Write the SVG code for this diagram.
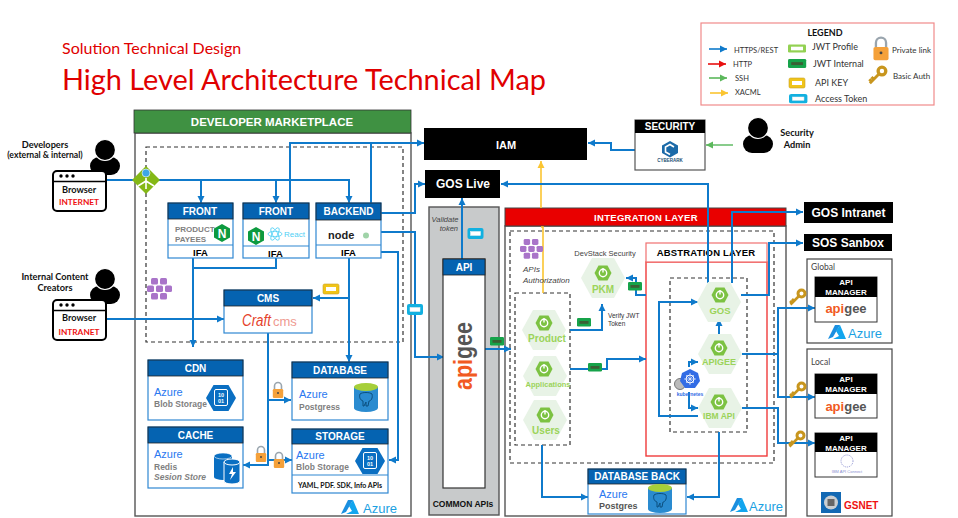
<svg xmlns="http://www.w3.org/2000/svg" xmlns:xlink="http://www.w3.org/1999/xlink" width="958" height="518" viewBox="0 0 958 518">
<style>
text{font-family:"Liberation Sans",Arial,sans-serif}
.c{font-family:Lato,"Liberation Sans",sans-serif}
.m{text-anchor:middle}
.b{font-weight:bold}
.hw{fill:#fff;font-weight:bold;font-size:10px;text-anchor:middle}
.hb{fill:#0563b1;stroke:#222;stroke-width:.8}
.bd{fill:#fff;stroke:#2f88d2;stroke-width:1.2}
.frame{fill:#fff;stroke:#555;stroke-width:1.4}
.dash{fill:none;stroke:#333;stroke-width:1.2;stroke-dasharray:4 3}
.l{fill:none;stroke:#0f7acb;stroke-width:2}
.a{marker-end:url(#ah)}
.az{fill:#2a78f0;font-size:11px}
.gr{fill:#7f7f7f;font-weight:bold;font-size:8.5px}
.sp{fill:#9bd35a;font-weight:bold;text-anchor:middle}
.azt{fill:#1ba1e2;font-size:13px}
.lg{font-size:7.5px;fill:#333}
.lr{font-size:8px;fill:#333}
.lm{font-size:9px;fill:#333}
.mgr{fill:#fff;font-weight:bold;font-size:8px;text-anchor:middle}
.ppl{font-weight:bold;fill:#111;text-anchor:middle;font-size:9.2px}
</style>
<defs>
<marker id="ah" markerUnits="userSpaceOnUse" markerWidth="8" markerHeight="8" refX="7" refY="4" orient="auto"><path d="M0 0.5L7 4L0 7.5z" fill="#0f7acb"/></marker>
<marker id="ar" markerUnits="userSpaceOnUse" markerWidth="8" markerHeight="8" refX="7" refY="4" orient="auto"><path d="M0 0.5L7 4L0 7.5z" fill="#e81010"/></marker>
<marker id="ag" markerUnits="userSpaceOnUse" markerWidth="8" markerHeight="8" refX="7" refY="4" orient="auto"><path d="M0 0.5L7 4L0 7.5z" fill="#5cb85c"/></marker>
<marker id="ay" markerUnits="userSpaceOnUse" markerWidth="8" markerHeight="8" refX="7" refY="4" orient="auto"><path d="M0 0.5L7 4L0 7.5z" fill="#fbc531"/></marker>
<g id="person"><rect x="-15" y="7" width="30" height="18" rx="9" fill="#000"/><circle r="10.5" fill="#000" stroke="#fff" stroke-width="1.2"/></g>
<g id="browser"><rect x="1" y="1" width="53" height="40" rx="4" fill="#fff" stroke="#000" stroke-width="2"/><path d="M1 11.5H54" stroke="#000" stroke-width="1.6"/><circle cx="9" cy="6" r="1.7"/><circle cx="15" cy="6" r="1.7"/><circle cx="21" cy="6" r="1.7"/></g>
<g id="hex"><polygon points="-22,0 -11,-20 11,-20 22,0 11,20 -11,20" fill="#e8f3e6"/></g>
<g id="pw"><polygon points="-8.5,0 -4.5,-7.5 4.5,-7.5 8.5,0 4.5,7.5 -4.5,7.5" fill="#7cc242"/><circle r="3.7" fill="none" stroke="#fff" stroke-width="1.4"/><path d="M0-5V-.5" stroke="#fff" stroke-width="1.4"/></g>
<g id="azlogo"><path d="M7 0L12 0L5 12L0 14z" fill="#1a8fe0"/><path d="M12 0L18 14H5L11 11L8 6z" fill="#12a5ee"/></g>
<g id="key"><circle cx="4.500" cy="-4.500" r="3.500" fill="none" stroke="#c8961e" stroke-width="3"/><path d="M2-2L-6.500 6.500M-5 5L-7 3M-3 3L-5 1" fill="none" stroke="#c8961e" stroke-width="2.600"/></g>
<g id="lock"><path d="M-3.500-2V-5A3.500 3.500 0 0 1 3.500-5V-2" fill="none" stroke="#9aa5ae" stroke-width="1.600"/><rect x="-5.200" y="-2" width="10.400" height="9" rx="1.200" fill="#f5a13a"/><circle cy="2" r="1" fill="#444"/></g>
<g id="tkG"><rect x="0" y="0" width="14" height="8.500" rx="1.200" fill="#16a34a"/><rect x="2.500" y="3" width="9" height="2.800" fill="#3a5f34"/></g>
<g id="tkB"><rect x="0" y="0" width="16" height="11" rx="2" fill="#12b0e0"/><rect x="3" y="3.500" width="10" height="4" fill="#fff" stroke="#eee" stroke-width=".5"/></g>
<g id="tkY"><rect x="0" y="0" width="16" height="10" rx="1.500" fill="#f0c419" stroke="#c9a227" stroke-width=".6"/><rect x="3" y="3" width="10" height="4" fill="#fff"/></g>
<g id="tkL"><rect x="0" y="0" width="18" height="8" rx="1.200" fill="#93d152"/><rect x="3" y="2.200" width="12" height="3.600" fill="#fff"/></g>
<g id="ngx"><polygon points="0,-9 8,-4.500 8,4.500 0,9 -8,4.500 -8,-4.500" fill="#0d9a3f"/><text y="4.500" font-size="12" font-weight="bold" fill="#fff" text-anchor="middle">N</text></g>
<g id="blob"><polygon points="-15,0 -7.500,-13 7.500,-13 15,0 7.500,13 -7.500,13" fill="#0a6fc2"/><rect x="-6.500" y="-8.500" width="13" height="16" rx="1.500" fill="none" stroke="#fff" stroke-width="1"/><text y="-1.500" font-size="5.500" font-weight="bold" fill="#fff" text-anchor="middle">10</text><text y="5" font-size="5.500" font-weight="bold" fill="#fff" text-anchor="middle">01</text></g>
<g id="pg"><path d="M-12-11V10A12 4 0 0 0 12 10V-11z" fill="#2a8bd0"/><ellipse cy="-11" rx="12" ry="4" fill="#a6cf3a"/><path d="M-6-4C-4-6 4-6 6-4C7 0 5 3 3 3L2 8H0V4L-2 8H-3V3C-6 2-7-1-6-4z" fill="none" stroke="#0b4f7f" stroke-width="1"/></g>
<g id="aks"><g fill="#a974c9"><rect x="4" y="0" width="7" height="6.500" rx="1.500"/><rect x="13" y="0" width="7" height="6.500" rx="1.500"/><rect x="0" y="7.500" width="7" height="6.500" rx="1.500"/><rect x="9" y="7.500" width="7" height="6.500" rx="1.500"/><rect x="18" y="7.500" width="7" height="6.500" rx="1.500"/><rect x="4" y="15" width="7" height="6.500" rx="1.500"/><rect x="13" y="15" width="7" height="6.500" rx="1.500"/></g></g>
</defs>

<rect width="958" height="518" fill="#fff"/>
<g id="title">
<text class="c" x="62" y="54" font-size="16" fill="#e00000">Solution Technical Design</text>
<text class="c" x="62" y="90" font-size="29" fill="#e00000" textLength="484" lengthAdjust="spacingAndGlyphs">High Level Architecture Technical Map</text>
</g>

<g id="legend">
<rect x="701" y="23" width="233" height="82" fill="#fff" stroke="#f08a8a" stroke-width="1.2"/>
<text class="c b m" x="825" y="36" font-size="9" fill="#111">LEGEND</text>
<path d="M709 49H727" stroke="#0f7acb" stroke-width="1.6" marker-end="url(#ah)"/>
<path d="M708 64H726" stroke="#e81010" stroke-width="1.6" marker-end="url(#ar)"/>
<path d="M709 78H727" stroke="#5cb85c" stroke-width="1.6" marker-end="url(#ag)"/>
<path d="M710 93H728" stroke="#fbc531" stroke-width="1.6" marker-end="url(#ay)"/>
<text class="c lg" x="734" y="53">HTTPS/REST</text>
<text class="c lg" x="733" y="67">HTTP</text>
<text class="c lg" x="735" y="81">SSH</text>
<text class="c lg" x="735" y="95">XACML</text>
<use href="#tkL" x="788" y="44.500"/>
<use href="#tkG" transform="translate(788 59) scale(1.3 1.05)"/>
<use href="#tkY" x="789" y="78"/>
<use href="#tkB" transform="translate(789 94) scale(1.15 .85)"/>
<text class="c lm" x="812" y="49.500">JWT Profile</text>
<text class="c lm" x="813" y="67">JWT Internal</text>
<text class="c lm" x="815" y="86">API KEY</text>
<text class="c lm" x="815" y="102">Access Token</text>
<use href="#lock" transform="translate(881 50) scale(1.45)"/>
<text class="c lr" x="892" y="53">Private link</text>
<use href="#key" transform="translate(877 76) scale(1.1)"/>
<text class="c lr" x="893" y="79">Basic Auth</text>
</g>

<g id="frames">
<rect class="frame" x="135" y="133" width="276" height="383"/>
<rect x="134" y="110" width="277" height="23" fill="#3f9142" stroke="#333" stroke-width=".8"/>
<text class="b m" x="272" y="126" font-size="11.500" fill="#fff">DEVELOPER MARKETPLACE</text>
<rect class="dash" x="146" y="147" width="257" height="195"/>
<rect x="429" y="207" width="70" height="308" fill="#c8cacb" stroke="#555" stroke-width="1.4"/>
<rect class="frame" x="505" y="226" width="281" height="290"/>
<rect x="505" y="208" width="281" height="18" fill="#e90000" stroke="#444"/>
<text class="b m" x="646" y="221" font-size="9.500" fill="#fff" letter-spacing=".3">INTEGRATION  LAYER</text>
<rect class="dash" x="510" y="231" width="264" height="232"/>
<rect x="646" y="262" width="121" height="194" fill="#fff" stroke="#ef3b3b" stroke-width="1.4"/>
<rect x="646" y="243" width="121" height="19" fill="#fff" stroke="#f07070" stroke-width="1.2"/>
<text class="b m" x="706" y="256" font-size="9.500" fill="#000" letter-spacing=".2">ABSTRATION LAYER</text>
<rect class="dash" x="670" y="278" width="77" height="154"/>
<rect class="dash" x="515" y="293" width="55" height="152"/>
<rect x="807" y="259" width="85" height="84" fill="#fff" stroke="#444" stroke-width="1.2"/>
<rect x="807" y="349" width="85" height="167" fill="#fff" stroke="#444" stroke-width="1.2"/>
<text class="c" x="811" y="270" font-size="8.500" fill="#444">Global</text>
<text class="c" x="811" y="365" font-size="8.500" fill="#444">Local</text>
</g>

<g id="connectors">
<path d="M543 293V227H541" fill="none" stroke="#fbc531" stroke-width="1.6"/>
<path d="M541 208V161" fill="none" stroke="#fbc531" stroke-width="1.6" marker-end="url(#ay)"/>
<path class="l" d="M106 180H350"/>
<path class="l a" d="M201 180V203"/>
<path class="l a" d="M276 180V203"/>
<path class="l a" d="M349 180V203"/>
<path class="l a" d="M290 203V143H424"/>
<path class="l" d="M371 203V143"/>
<path class="l a" d="M381 213H415V184H425"/>
<path class="l a" d="M381 232H415V357H444"/>
<path class="l a" d="M381 252H398V460H389"/>
<path class="l a" d="M193 258V347"/>
<path class="l" d="M276 258V268H193"/>
<path class="l a" d="M349 258V362"/>
<path class="l a" d="M349 298H313"/>
<path class="l a" d="M106 319H224"/>
<path class="l a" d="M268 333V465H243"/>
<path class="l a" d="M268 400H291"/>
<path class="l a" d="M268 460H292"/>
<path class="l a" d="M635 150H611V143H588"/>
<path d="M733 145H706" fill="none" stroke="#6cc070" stroke-width="1.600" marker-end="url(#ag)"/>
<path class="l a" d="M462 259V198"/>
<path class="l a" d="M485 349H511"/>
<path class="l a" d="M708 283V184H501"/>
<path class="l a" d="M732 283V212H803"/>
<path class="l a" d="M741 295H769V243H803"/>
<path class="l a" d="M742 354H778V308H815"/>
<path class="l a" d="M778 354V397H815"/>
<path class="l a" d="M742 408H778V443H815"/>
<path class="l a" d="M719 334V319"/>
<path class="l a" d="M698 416H659V302H698"/>
<path class="l a" d="M689 367V362H698"/>
<path class="l a" d="M689 392V408H698"/>
<path class="l a" d="M570 330H602V304"/>
<path class="l a" d="M570 369H607V359H646"/>
<path class="l a" d="M646 295H636V278H626"/>
<path class="l a" d="M542 445V497H588"/>
<path class="l a" d="M719 432V497H687"/>
</g>

<g id="developers">
<text class="c ppl" x="45" y="148">Developers</text>
<text class="c b m" x="45" y="158" font-size="8.600" fill="#111">(external &amp; internal)</text>
<use href="#person" x="105" y="150"/>
<use href="#browser" x="52" y="170"/>
<text class="c ppl" x="79" y="193">Browser</text>
<text class="c b m" x="79" y="205" font-size="8.300" fill="#ee1111">INTERNET</text>
</g>
<g id="content-creators">
<text class="c ppl" x="55" y="280">Internal Content</text>
<text class="c ppl" x="55" y="291">Creators</text>
<use href="#person" x="105" y="279"/>
<use href="#browser" x="52" y="299"/>
<text class="c ppl" x="79" y="321">Browser</text>
<text class="c b m" x="79" y="335" font-size="8.300" fill="#ee1111">INTRANET</text>
</g>
<g id="gateway">
<polygon points="146,166 160,180 146,194 132,180" fill="#84b816"/>
<circle cx="146" cy="173" r="4" fill="#3ea7e6" stroke="#fff" stroke-width=".6"/>
<path d="M146 178V189M146 181L138 186M146 181L154 186" stroke="#fff" stroke-width="1.600" fill="none"/>
</g>

<g id="front-1">
<rect class="bd" x="168" y="203" width="65" height="55"/>
<path d="M168 245H233" stroke="#2f88d2" stroke-width="1.200"/>
<rect class="hb" x="168" y="203" width="65" height="16"/>
<text class="hw" x="200" y="215">FRONT</text>
<text class="gr" x="175" y="232" style="font-size:8px">PRODUCT</text>
<text class="gr" x="175" y="241.500" style="font-size:8px">PAYEES</text>
<use href="#ngx" x="222" y="233"/>
<text class="b m" x="200.500" y="255.500" font-size="9.500">IFA</text>
</g>
<g id="front-2">
<rect class="bd" x="243" y="203" width="66" height="55"/>
<path d="M243 246H309" stroke="#2f88d2" stroke-width="1.200"/>
<rect class="hb" x="243" y="203" width="66" height="16"/>
<text class="hw" x="276" y="215">FRONT</text>
<use href="#ngx" x="256" y="236"/>
<g fill="none" stroke="#4fd0f5" stroke-width=".8"><ellipse cx="275" cy="234" rx="7" ry="2.700"/><ellipse cx="275" cy="234" rx="7" ry="2.700" transform="rotate(60 275 234)"/><ellipse cx="275" cy="234" rx="7" ry="2.700" transform="rotate(120 275 234)"/></g>
<text x="284" y="237" font-size="8" fill="#4fd0f5">React</text>
<text class="b m" x="275.500" y="256.500" font-size="9.500">IFA</text>
</g>
<g id="backend">
<rect class="bd" x="316" y="203" width="65" height="55"/>
<path d="M316 245H381" stroke="#2f88d2" stroke-width="1.200"/>
<rect class="hb" x="316" y="203" width="65" height="17"/>
<text class="hw" x="348.500" y="215">BACKEND</text>
<text class="b" x="328" y="239" font-size="11" fill="#222">node</text>
<circle cx="366" cy="235.500" r="3" fill="#9fd3a8"/>
<text class="b m" x="348.500" y="256" font-size="9.500">IFA</text>
</g>
<g id="aks-dev"><use href="#aks" x="147" y="278"/></g>
<g id="api-key-badge"><use href="#tkY" x="323" y="284"/></g>
<g id="cms">
<rect class="bd" x="224" y="290" width="88" height="43"/>
<rect class="hb" x="224" y="290" width="88" height="16"/>
<text class="hw" x="268" y="302">CMS</text>
<text x="242" y="326" font-size="16" font-style="italic" fill="#e5422b" textLength="29" lengthAdjust="spacingAndGlyphs">Craft</text>
<text x="273" y="326" font-size="13" fill="#ef9a90">cms</text>
</g>
<g id="cdn">
<rect class="bd" x="148" y="360" width="95" height="60"/>
<rect class="hb" x="148" y="360" width="95" height="16"/>
<text class="hw" x="195.500" y="372">CDN</text>
<text class="az" x="154" y="396">Azure</text>
<text class="gr" x="154" y="407">Blob Storage</text>
<use href="#blob" x="221" y="398"/>
</g>
<g id="cache">
<rect class="bd" x="148" y="427" width="95" height="61"/>
<rect class="hb" x="148" y="427" width="95" height="16"/>
<text class="hw" x="195.500" y="439">CACHE</text>
<text class="az" x="154" y="458">Azure</text>
<text class="gr" x="154" y="470">Redis</text>
<text class="gr" x="154" y="480" font-style="italic">Sesion Store</text>
<path d="M214 456V477A9 3 0 0 0 232 477V456z" fill="#0a6fc2"/><ellipse cx="223" cy="456" rx="9" ry="3" fill="#0a6fc2" stroke="#fff" stroke-width=".6"/>
<path d="M224 462V481A8 3 0 0 0 240 481V462z" fill="#0a6fc2" stroke="#fff"/><ellipse cx="232" cy="462" rx="8" ry="3" fill="#0a6fc2" stroke="#fff"/>
<path d="M233 467L229 474H232L230 480L236 472H233z" fill="#fff"/>
</g>
<g id="database">
<rect class="bd" x="292" y="362" width="96" height="58"/>
<rect class="hb" x="292" y="362" width="96" height="16"/>
<text class="hw" x="340" y="374">DATABASE</text>
<text class="az" x="299" y="398">Azure</text>
<text class="gr" x="299" y="410">Postgress</text>
<use href="#pg" x="366" y="398"/>
</g>
<g id="storage">
<rect class="bd" x="292" y="429" width="96" height="64"/>
<path d="M292 475H388" stroke="#2f88d2" stroke-width="1.200"/>
<rect class="hb" x="292" y="429" width="96" height="15"/>
<text class="hw" x="340" y="440">STORAGE</text>
<text class="az" x="296" y="459">Azure</text>
<text class="gr" x="296" y="470">Blob Storage</text>
<use href="#blob" x="370" y="461"/>
<text class="c b m" x="340" y="488" font-size="7" fill="#111">YAML, PDF. SDK, Info APIs</text>
</g>
<g id="locks">
<use href="#lock" transform="translate(278 391)"/>
<use href="#lock" transform="translate(261 455)"/>
<use href="#lock" transform="translate(279 461)"/>
</g>
<g id="azure-dev"><use href="#azlogo" x="341" y="500"/><text class="azt" x="363" y="513">Azure</text></g>

<g id="iam">
<rect x="424" y="128" width="163" height="32" fill="#000"/>
<text class="b m" x="506" y="149" font-size="11" fill="#fff">IAM</text>
</g>
<g id="gos-live">
<rect x="425" y="170" width="75" height="28" fill="#000"/>
<text class="b m" x="463" y="188" font-size="12" fill="#fff">GOS Live</text>
</g>
<g id="security">
<rect x="635" y="120" width="70" height="50" fill="#fff" stroke="#555" stroke-width="1.200"/>
<rect x="635" y="120" width="70" height="13" fill="#000"/>
<text class="hw" x="670" y="130">SECURITY</text>
<polygon points="670,141 678,145.500 678,153 670,157.500 662,153 662,145.500" fill="#1b6aa8"/>
<path d="M674 147L670 144.500L665.500 147V152L670 154.500" fill="none" stroke="#fff" stroke-width="1.600"/>
<text class="b m" x="670" y="162" font-size="4.500" fill="#1b4f72">CYBERARK</text>
</g>
<g id="security-admin">
<use href="#person" x="758" y="128"/>
<text class="c ppl" x="797" y="136">Security</text>
<text class="c ppl" x="797" y="148">Admin</text>
</g>

<g id="common-apis">
<text x="445" y="222" font-size="7.500" font-style="italic" fill="#444" text-anchor="middle">Validate</text>
<text x="458" y="231" font-size="7.500" font-style="italic" fill="#444" text-anchor="end">token</text>
<use href="#tkB" x="467.500" y="228"/>
<rect x="443" y="259" width="42" height="229" fill="#fff" stroke="#333" stroke-width="1.200"/>
<rect x="443" y="259" width="42" height="16" fill="#0563b1" stroke="#222" stroke-width=".8"/>
<text class="hw" x="464" y="271">API</text>
<text transform="translate(472 390) rotate(-90)" font-size="26" font-weight="bold" textLength="68" lengthAdjust="spacingAndGlyphs"><tspan fill="#f15a22">api</tspan><tspan fill="#555">gee</tspan></text>
<text class="b m" x="463" y="507" font-size="8.500" fill="#111">COMMON APIs</text>
</g>
<g id="badges">
<use href="#tkB" x="407" y="304"/>
<use href="#tkG" x="490" y="337"/>
<use href="#tkG" x="577" y="318"/>
<use href="#tkG" x="588" y="363"/>
<use href="#tkG" x="628" y="282"/>
</g>
<g id="aks-api">
<use href="#aks" transform="translate(520 239) scale(.92)"/>
<text x="523" y="272" font-size="8" font-style="italic" fill="#444">APIs</text>
<text x="523" y="282.500" font-size="8" font-style="italic" fill="#444">Authorization</text>
</g>
<g id="pkm">
<text class="m" x="605" y="256" font-size="7.500" fill="#444">DevStack Security</text>
<use href="#hex" x="603" y="278"/><use href="#pw" x="603" y="273"/>
<text class="sp" x="603" y="293" font-size="10">PKM</text>
</g>
<g id="verify"><text x="608" y="318" font-size="6.500" fill="#333">Verify JWT</text><text x="608" y="326" font-size="6.500" fill="#333">Token</text></g>
<g id="product"><use href="#hex" x="544" y="330"/><use href="#pw" x="544" y="323"/><text class="sp" x="547" y="342" font-size="10">Product</text></g>
<g id="applications"><use href="#hex" x="545" y="376"/><use href="#pw" x="544" y="369"/><text class="sp" x="548" y="387" font-size="7.500">Applications</text></g>
<g id="users"><use href="#hex" x="545" y="420"/><use href="#pw" x="545" y="415"/><text class="sp" x="546" y="434" font-size="10">Users</text></g>
<g id="gos"><use href="#hex" x="719" y="302"/><use href="#pw" x="720" y="295"/><text class="sp" x="720" y="314" font-size="9.500">GOS</text></g>
<g id="apigee-ms"><use href="#hex" x="720" y="354"/><use href="#pw" x="719" y="348"/><text class="sp" x="719" y="365" font-size="9">APIGEE</text></g>
<g id="ibm-api"><use href="#hex" x="720" y="408"/><use href="#pw" x="719" y="402"/><text class="sp" x="719" y="419" font-size="8.500">IBM API</text></g>
<g id="kubernetes">
<circle cx="680" cy="384" r="5.500" fill="#bbb" stroke="#777"/>
<polygon points="690,369 698,373 700,381 695,388 685,388 680,381 682,373" fill="#326ce5"/>
<circle cx="690" cy="379" r="4" fill="none" stroke="#fff"/><path d="M690 373V385M684 379H696M686 375L694 383M694 375L686 383" stroke="#fff" stroke-width=".6"/>
<text class="b m" x="690" y="396" font-size="5" fill="#326ce5">kubernetes</text>
</g>
<g id="database-back">
<rect class="bd" x="588" y="469" width="98" height="45"/>
<rect class="hb" x="588" y="469" width="98" height="15"/>
<text class="hw" x="637" y="480">DATABASE BACK</text>
<text class="az" x="599" y="498">Azure</text>
<text x="599" y="509" font-size="9" fill="#555" font-weight="bold">Postgres</text>
<use href="#pg" x="660" y="499"/>
</g>
<g id="azure-int"><use href="#azlogo" x="730" y="498"/><text class="azt" x="749" y="511">Azure</text></g>

<g id="gos-intranet">
<rect x="804" y="202" width="89" height="21" fill="#000"/>
<text class="b m" x="848.500" y="217" font-size="12" fill="#fff">GOS Intranet</text>
</g>
<g id="sos-sanbox">
<rect x="804" y="234" width="88" height="17" fill="#000"/>
<text class="b m" x="848" y="247" font-size="12" fill="#fff">SOS Sanbox</text>
</g>
<g id="mgr-global">
<rect x="815" y="277" width="62" height="45" fill="#fff" stroke="#333"/>
<rect x="815" y="277" width="62" height="20" fill="#000"/>
<text class="mgr" x="846" y="285">API</text><text class="mgr" x="846" y="295">MANAGER</text>
<text class="m b" x="846" y="313" font-size="13"><tspan fill="#f15a22">api</tspan><tspan fill="#555">gee</tspan></text>
</g>
<g id="azure-global"><use href="#azlogo" x="828" y="325"/><text class="azt" x="848" y="338">Azure</text></g>
<g id="mgr-local">
<rect x="815" y="374" width="62" height="44" fill="#fff" stroke="#333"/>
<rect x="815" y="374" width="62" height="20" fill="#000"/>
<text class="mgr" x="846" y="382">API</text><text class="mgr" x="846" y="392">MANAGER</text>
<text class="m b" x="846" y="411" font-size="13"><tspan fill="#f15a22">api</tspan><tspan fill="#555">gee</tspan></text>
</g>
<g id="mgr-ibm">
<rect x="815" y="433" width="62" height="44" fill="#fff" stroke="#333"/>
<rect x="815" y="433" width="62" height="19" fill="#000"/>
<text class="mgr" x="846" y="441">API</text><text class="mgr" x="846" y="450.500">MANAGER</text>
<circle cx="847" cy="461" r="6" fill="none" stroke="#8a8fd0" stroke-width="1" stroke-dasharray="1 1"/>
<text class="m" x="847" y="473" font-size="4" fill="#8a8fd0">IBM API Connect</text>
</g>
<g id="gsnet">
<rect x="821" y="492" width="20" height="21" fill="#1268b3"/>
<circle cx="831" cy="502.500" r="7" fill="#c9ced2"/>
<rect x="827.500" y="499" width="7" height="7" fill="#666"/>
<text class="b" x="844" y="509" font-size="10" fill="#ee1111">GSNET</text>
</g>
<g id="keys">
<use href="#key" x="797" y="298"/>
<use href="#key" x="797" y="391"/>
<use href="#key" x="796" y="440"/>
</g>
</svg>
